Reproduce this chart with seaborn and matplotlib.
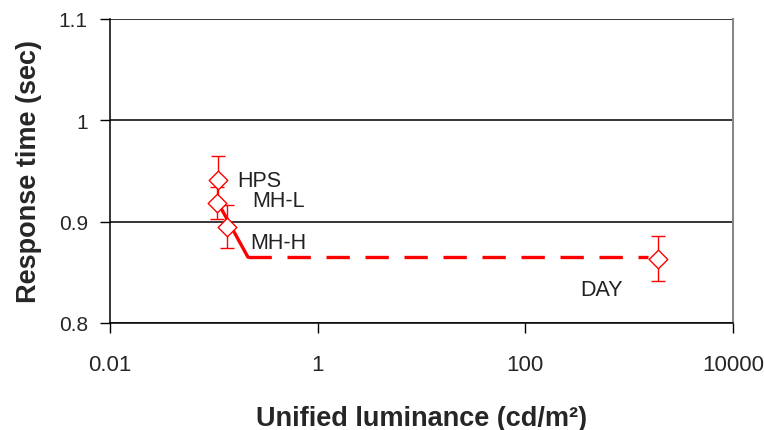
import numpy as np
import pandas as pd
import matplotlib
matplotlib.use("Agg")
import matplotlib.pyplot as plt
import seaborn as sns


# values
sources = ["HPS", "MH-L", "MH-H", "DAY"]
luminance = [0.109, 0.107, 0.135, 1900.0]
response = [0.941, 0.9185, 0.895, 0.8635]
resp_err = [0.024, 0.016, 0.021, 0.022]

# trend line drawn through the data
trend_x = [0.112, 0.213, 1520.0]
trend_y = [0.917, 0.865, 0.865]

# label anchors
label_x = [0.167, 0.233, 0.223, 337.0]
label_y = [0.941, 0.9208, 0.8792, 0.8327]

x_ticks = [0.01, 1, 100, 10000]
x_ticklabels = ["0.01", "1", "100", "10000"]
y_ticks = [0.8, 0.9, 1.0, 1.1]
y_ticklabels = ["0.8", "0.9", "1", "1.1"]

df = pd.DataFrame({"source": sources, "luminance": luminance,
                   "response": response, "err": resp_err})

sns.set_style("white")
plt.rcParams["font.family"] = ["Liberation Sans", "DejaVu Sans"]

fig = plt.figure(figsize=(7.64, 4.31), dpi=100)
ax = fig.add_axes([0.144, 0.2483, 0.8154, 0.7053])

ax.set_xscale("log")
ax.set_xlim(0.01, 10000)
ax.set_ylim(0.8, 1.1)

# horizontal grid
for yv in y_ticks:
    ax.axhline(yv, color="black", lw=1.1, zorder=1)

# trend line: solid drop, then dashed run
sns.lineplot(x=trend_x[:2], y=trend_y[:2], ax=ax, color="red", lw=2.4,
             sort=False, zorder=2)
sns.lineplot(x=trend_x[1:], y=trend_y[1:], ax=ax, color="red", lw=2.4,
             sort=False, zorder=2, dashes=False, linestyle=(0, (7, 4.7)))

ax.errorbar(df["luminance"], df["response"], yerr=df["err"], fmt="none",
            ecolor="red", elinewidth=1, capsize=4.7, capthick=1, zorder=3)

sns.scatterplot(data=df, x="luminance", y="response", ax=ax, marker="D",
                s=90, facecolor="white", edgecolor="red", linewidth=1,
                zorder=4)

for name, lx, ly in zip(sources, label_x, label_y):
    ax.text(lx, ly, name, fontsize=15.5, va="center", ha="left",
            color="#222222", zorder=5)

ax.set_xticks(x_ticks)
ax.set_xticklabels(x_ticklabels)
ax.xaxis.set_minor_locator(matplotlib.ticker.NullLocator())
ax.set_yticks(y_ticks)
ax.set_yticklabels(y_ticklabels)
ax.tick_params(axis="both", which="major", direction="out", length=7,
               width=1, color="black", bottom=True, left=True)
ax.tick_params(axis="x", pad=15, labelsize=16)
ax.tick_params(axis="y", pad=9, labelsize=15)

for side in ["left", "bottom"]:
    ax.spines[side].set_color("black")
    ax.spines[side].set_linewidth(1.1)
ax.spines["top"].set_visible(False)
ax.spines["right"].set_color("#888888")
ax.spines["right"].set_linewidth(1.5)

ax.set_xlabel("Unified luminance (cd/m²)", fontsize=19.5, fontweight="bold",
              labelpad=22)
ax.set_ylabel("Response time (sec)", fontsize=19.5, fontweight="bold",
              labelpad=12)

fig.savefig("out.png", dpi=100)
